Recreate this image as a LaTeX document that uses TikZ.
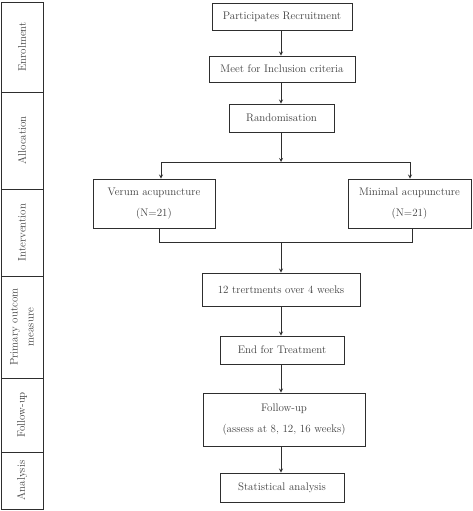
\documentclass[tikz,border=0pt]{standalone}
\usepackage{tikz}
\newlength{\du}
\setlength{\du}{1pt}
\definecolor{linecolor}{rgb}{0.18, 0.18, 0.18}
\definecolor{textcolor}{rgb}{0.25, 0.25, 0.25}
\begin{document}
\begin{tikzpicture}[yscale=-1,
  every node/.style={font=\fontsize{11}{21}\selectfont, text=textcolor},
  box/.style={draw=linecolor, line width=0.9\du, fill=white, align=center, inner sep=0pt},
  lane/.style={draw=linecolor, line width=0.9\du, rotate=90, minimum height=42\du, align=center, inner sep=0pt},
  arr/.style={draw=linecolor, line width=0.8\du, -stealth},
  wire/.style={draw=linecolor, line width=0.8\du}]
\useasboundingbox (0\du,0\du) rectangle (472\du,511\du);
% stage column
\node[lane, minimum width=90\du] (enrol) at (22\du,47\du) {Enrolment};
\node[lane, minimum width=97\du] (alloc) at (22\du,140.5\du) {Allocation};
\node[lane, minimum width=87\du] (interv) at (22\du,232.5\du) {Intervention};
\node[lane, minimum width=102\du, font=\fontsize{11}{16}\selectfont] (primary) at (22\du,327\du) {Primary outcom\\measure};
\node[lane, minimum width=74\du] (follow) at (22\du,415\du) {Follow-up};
\node[lane, minimum width=57\du] (analysis) at (22\du,480.5\du) {Analysis};
% flow boxes
\node[box, minimum width=140\du, minimum height=27\du] (recruit) at (282\du,16.5\du) {Participates Recruitment};
\node[box, minimum width=146\du, minimum height=26\du] (meet) at (282\du,69\du) {Meet for Inclusion criteria};
\node[box, minimum width=105\du, minimum height=28\du] (random) at (281.5\du,118\du) {Randomisation};
\node[box, minimum width=122\du, minimum height=49\du] (verum) at (154\du,203.5\du) {Verum acupuncture\\(N=21)};
\node[box, minimum width=123\du, minimum height=49\du] (minimal) at (409.5\du,203.5\du) {Minimal acupuncture\\(N=21)};
\node[box, minimum width=158\du, minimum height=33\du] (treat) at (281\du,289.5\du) {12 trertments over 4 weeks};
\node[box, minimum width=124\du, minimum height=28\du] (endt) at (282\du,350\du) {End for Treatment};
\node[box, minimum width=162\du, minimum height=53\du] (followup) at (284\du,419.5\du) {Follow-up\\(assess at 8, 12, 16 weeks)};
\node[box, minimum width=124\du, minimum height=29\du] (stat) at (282\du,487.5\du) {Statistical analysis};
% branch points
\coordinate (split) at (281\du,162\du);
\coordinate (splitL) at (161\du,162\du);
\coordinate (splitR) at (410\du,162\du);
\coordinate (joinL) at (159\du,242\du);
\coordinate (joinR) at (412\du,242\du);
\coordinate (join) at (281\du,242\du);
% connectors
\draw[arr] (recruit.south -| split) -- (meet.north -| split);
\draw[arr] (meet.south -| split) -- (random.north -| split);
\draw[arr] (random.south -| split) -- (split);
\draw[wire] (splitL) -- (splitR);
\draw[arr] (splitL) -- (splitL |- verum.north);
\draw[arr] (splitR) -- (splitR |- minimal.north);
\draw[wire] (joinL |- verum.south) -- (joinL) -- (joinR) -- (joinR |- minimal.south);
\draw[arr] (join) -- (treat.north -| join);
\draw[arr] (treat.south -| join) -- (endt.north -| join);
\draw[arr] (endt.south -| join) -- (followup.north -| join);
\draw[arr] (followup.south -| join) -- (stat.north -| join);
\end{tikzpicture}
\end{document}
